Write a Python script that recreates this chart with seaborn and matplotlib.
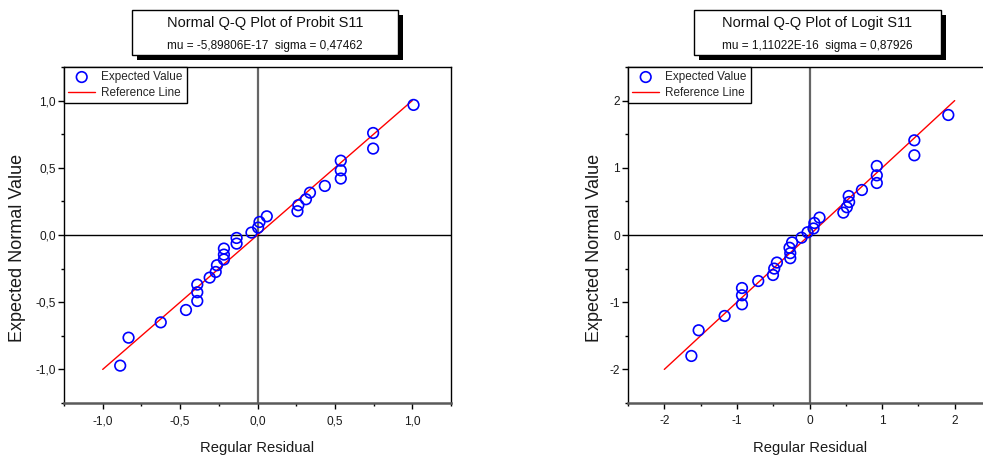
import matplotlib
matplotlib.use("Agg")
import matplotlib.pyplot as plt
from matplotlib.patches import Rectangle
from matplotlib.ticker import MultipleLocator, FuncFormatter
import seaborn as sns

# Probit model residuals vs expected normal values
probit_resid = [-0.887, -0.833, -0.625, -0.462, -0.389, -0.389, -0.389, -0.309,
                -0.270, -0.262, -0.217, -0.217, -0.217, -0.135, -0.135, -0.039,
                0.004, 0.013, 0.060, 0.258, 0.264, 0.313, 0.339, 0.435,
                0.538, 0.538, 0.538, 0.747, 0.747, 1.008]
probit_expected = [-0.972, -0.764, -0.650, -0.558, -0.491, -0.426, -0.369, -0.317,
                   -0.275, -0.225, -0.182, -0.146, -0.101, -0.064, -0.022, 0.018,
                   0.055, 0.097, 0.139, 0.177, 0.222, 0.266, 0.315, 0.365,
                   0.420, 0.481, 0.553, 0.643, 0.759, 0.968]
probit_ref = [-1.0, 1.0]

# Logit model residuals vs expected normal values
logit_resid = [-1.627, -1.527, -1.169, -0.930, -0.930, -0.930, -0.706, -0.503,
               -0.486, -0.449, -0.265, -0.265, -0.275, -0.240, -0.110, -0.027,
               0.055, 0.067, 0.138, 0.466, 0.514, 0.546, 0.540, 0.722,
               0.927, 0.927, 0.927, 1.444, 1.444, 1.912]
logit_expected = [-1.800, -1.418, -1.205, -1.031, -0.897, -0.789, -0.685, -0.595,
                  -0.500, -0.410, -0.345, -0.270, -0.190, -0.110, -0.040, 0.040,
                  0.097, 0.179, 0.259, 0.333, 0.413, 0.491, 0.580, 0.670,
                  0.774, 0.888, 1.027, 1.186, 1.409, 1.786]
logit_ref = [-2.0, 2.0]

titles = ["Normal Q-Q Plot of Probit S11", "Normal Q-Q Plot of Logit S11"]
subtitles = ["mu = -5,89806E-17  sigma = 0,47462",
             "mu = 1,11022E-16  sigma = 0,87926"]

sns.set_theme(style="white")
plt.rcParams['font.family'] = ['Liberation Sans', 'DejaVu Sans']

W, H = 983, 457
fig = plt.figure(figsize=(W / 100, H / 100), dpi=100)


def fx(px):
    return px / W


def fy(py):
    return 1 - py / H


def comma_fmt(v, _):
    return f"{v:.1f}".replace(".", ",")


def int_fmt(v, _):
    return f"{v:.0f}"


def panel(left_px, right_px, xs, ys, ref, lim, major, fmt, ylab_x, xlab_x):
    ax = fig.add_axes([fx(left_px), fy(403), fx(right_px - left_px), (403 - 67) / H])
    ax.axvline(0, color="#666666", lw=1.6, zorder=1)
    ax.axhline(0, color="black", lw=1.0, zorder=1)
    sns.lineplot(x=ref, y=ref, ax=ax, color="#ff0000", lw=1.0,
                 label="Reference Line", zorder=2, legend=False)
    sns.scatterplot(x=xs, y=ys, ax=ax, marker="o", s=58,
                    label="Expected Value", zorder=3, legend=False)
    coll = ax.collections[-1]
    coll.set_facecolor("none")
    coll.set_edgecolor("#0000ff")
    coll.set_linewidth(1.2)

    ax.set_xlim(-lim, lim)
    ax.set_ylim(-lim, lim)
    for a in (ax.xaxis, ax.yaxis):
        a.set_major_locator(MultipleLocator(major))
        a.set_minor_locator(MultipleLocator(major / 2))
        a.set_major_formatter(FuncFormatter(fmt))
    ax.tick_params(which="both", direction="out", bottom=True, left=True,
                   top=False, right=False, colors="black", labelsize=8.6,
                   labelcolor="#1a1a1a")
    ax.tick_params(which="major", length=4, width=1)
    ax.tick_params(axis="x", which="major", pad=5)
    ax.tick_params(axis="y", which="major", pad=2)
    ax.tick_params(which="minor", length=2.5, width=1)

    for side in ("top", "right", "left"):
        ax.spines[side].set_color("black")
        ax.spines[side].set_linewidth(1.0)
    ax.spines["bottom"].set_color("#5a5a5a")
    ax.spines["bottom"].set_linewidth(1.8)

    ax.set_xlabel("Regular Residual", fontsize=10.6, color="#1a1a1a")
    ax.set_ylabel("Expected Normal Value", fontsize=13, color="#1a1a1a")
    ax.xaxis.set_label_coords(xlab_x, -0.133)
    ax.xaxis.label.set_va("center")
    ax.yaxis.set_label_coords(ylab_x, 0.461)
    ax.yaxis.label.set_va("center")

    handles, labels = ax.get_legend_handles_labels()
    order = [labels.index("Expected Value"), labels.index("Reference Line")]
    leg = ax.legend([handles[i] for i in order], [labels[i] for i in order],
                    loc="upper left", bbox_to_anchor=(0, 1), borderaxespad=0,
                    fontsize=8.5, frameon=True, fancybox=False, framealpha=1,
                    edgecolor="black", handlelength=2.3, handletextpad=0.5,
                    borderpad=0.35, labelspacing=0.3)
    leg.get_frame().set_linewidth(1.0)
    return ax


def title_box(x0, x1, title, sub):
    y0, y1 = 10, 55
    shadow = Rectangle((fx(x0 + 5), fy(y1 + 5)), fx(x1 - x0), (y1 - y0) / H,
                       transform=fig.transFigure, facecolor="black",
                       edgecolor="none", zorder=5)
    box = Rectangle((fx(x0), fy(y1)), fx(x1 - x0), (y1 - y0) / H,
                    transform=fig.transFigure, facecolor="white",
                    edgecolor="black", lw=1.0, zorder=6)
    fig.add_artist(shadow)
    fig.add_artist(box)
    cx = fx((x0 + x1) / 2)
    fig.text(cx, fy(23), title, ha="center", va="center", fontsize=10.5,
             color="#111111", zorder=7)
    fig.text(cx, fy(45.5), sub, ha="center", va="center", fontsize=8.5,
             color="#111111", zorder=7)


panel(64, 451, probit_resid, probit_expected, probit_ref, 1.25, 0.5,
      comma_fmt, -0.119, 0.5)
panel(628, 991, logit_resid, logit_expected, logit_ref, 2.5, 1.0,
      int_fmt, -0.092, 0.501)

title_box(132, 398, titles[0], subtitles[0])
title_box(694, 941, titles[1], subtitles[1])

fig.savefig("out.png", dpi=100)
